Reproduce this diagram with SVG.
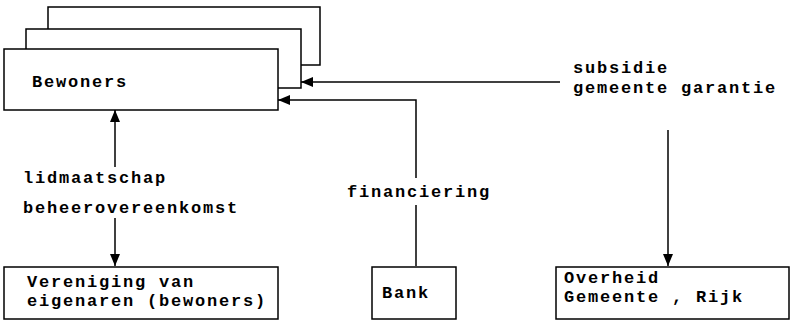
<svg xmlns="http://www.w3.org/2000/svg" width="793" height="324" viewBox="0 0 793 324">
<style>
.b{fill:#fff;stroke:#000;stroke-width:1.5}
.l{fill:none;stroke:#000;stroke-width:1.5}
text{font-family:"Liberation Mono","Courier New",monospace;font-weight:bold;font-size:17px;letter-spacing:1.8px;fill:#000}
</style>
<defs>
<marker id="ah" viewBox="0 0 12 10" refX="12" refY="5" markerWidth="12" markerHeight="10" markerUnits="userSpaceOnUse" orient="auto">
<path d="M0,0 L12,5 L0,10 Z" fill="#000"/>
</marker>
</defs>
<rect width="793" height="324" fill="#fff"/>
<g id="bewoners">
<polyline class="l" points="48,29 48,7 320,7 320,65 301,65"/>
<polyline class="l" points="26,49 26,29 301,29 301,88 278,88"/>
<rect class="b" x="4" y="49" width="274" height="61"/>
<text x="32" y="87">Bewoners</text>
</g>
<g id="vereniging">
<rect class="b" x="4" y="267" width="274" height="52"/>
<text x="27" y="287">Vereniging van</text>
<text x="27" y="306">eigenaren (bewoners)</text>
</g>
<g id="bank">
<rect class="b" x="372" y="267" width="84" height="52"/>
<text x="382" y="298">Bank</text>
</g>
<g id="overheid">
<rect class="b" x="556" y="267" width="233" height="52"/>
<text x="564" y="283">Overheid</text>
<text x="564" y="302">Gemeente , Rijk</text>
</g>
<g id="connectors">
<line class="l" x1="115" y1="167" x2="115" y2="110" marker-end="url(#ah)"/>
<line class="l" x1="115" y1="218" x2="115" y2="266" marker-end="url(#ah)"/>
<text x="23" y="183">lidmaatschap</text>
<text x="23" y="213">beheerovereenkomst</text>
<line class="l" x1="416" y1="266" x2="416" y2="205"/>
<polyline class="l" points="416,178 416,100 278,100" marker-end="url(#ah)"/>
<text x="347" y="197">financiering</text>
<line class="l" x1="560" y1="82" x2="301" y2="82" marker-end="url(#ah)"/>
<text x="573" y="73">subsidie</text>
<text x="573" y="93">gemeente garantie</text>
<line class="l" x1="668" y1="130" x2="668" y2="266" marker-end="url(#ah)"/>
</g>
</svg>
